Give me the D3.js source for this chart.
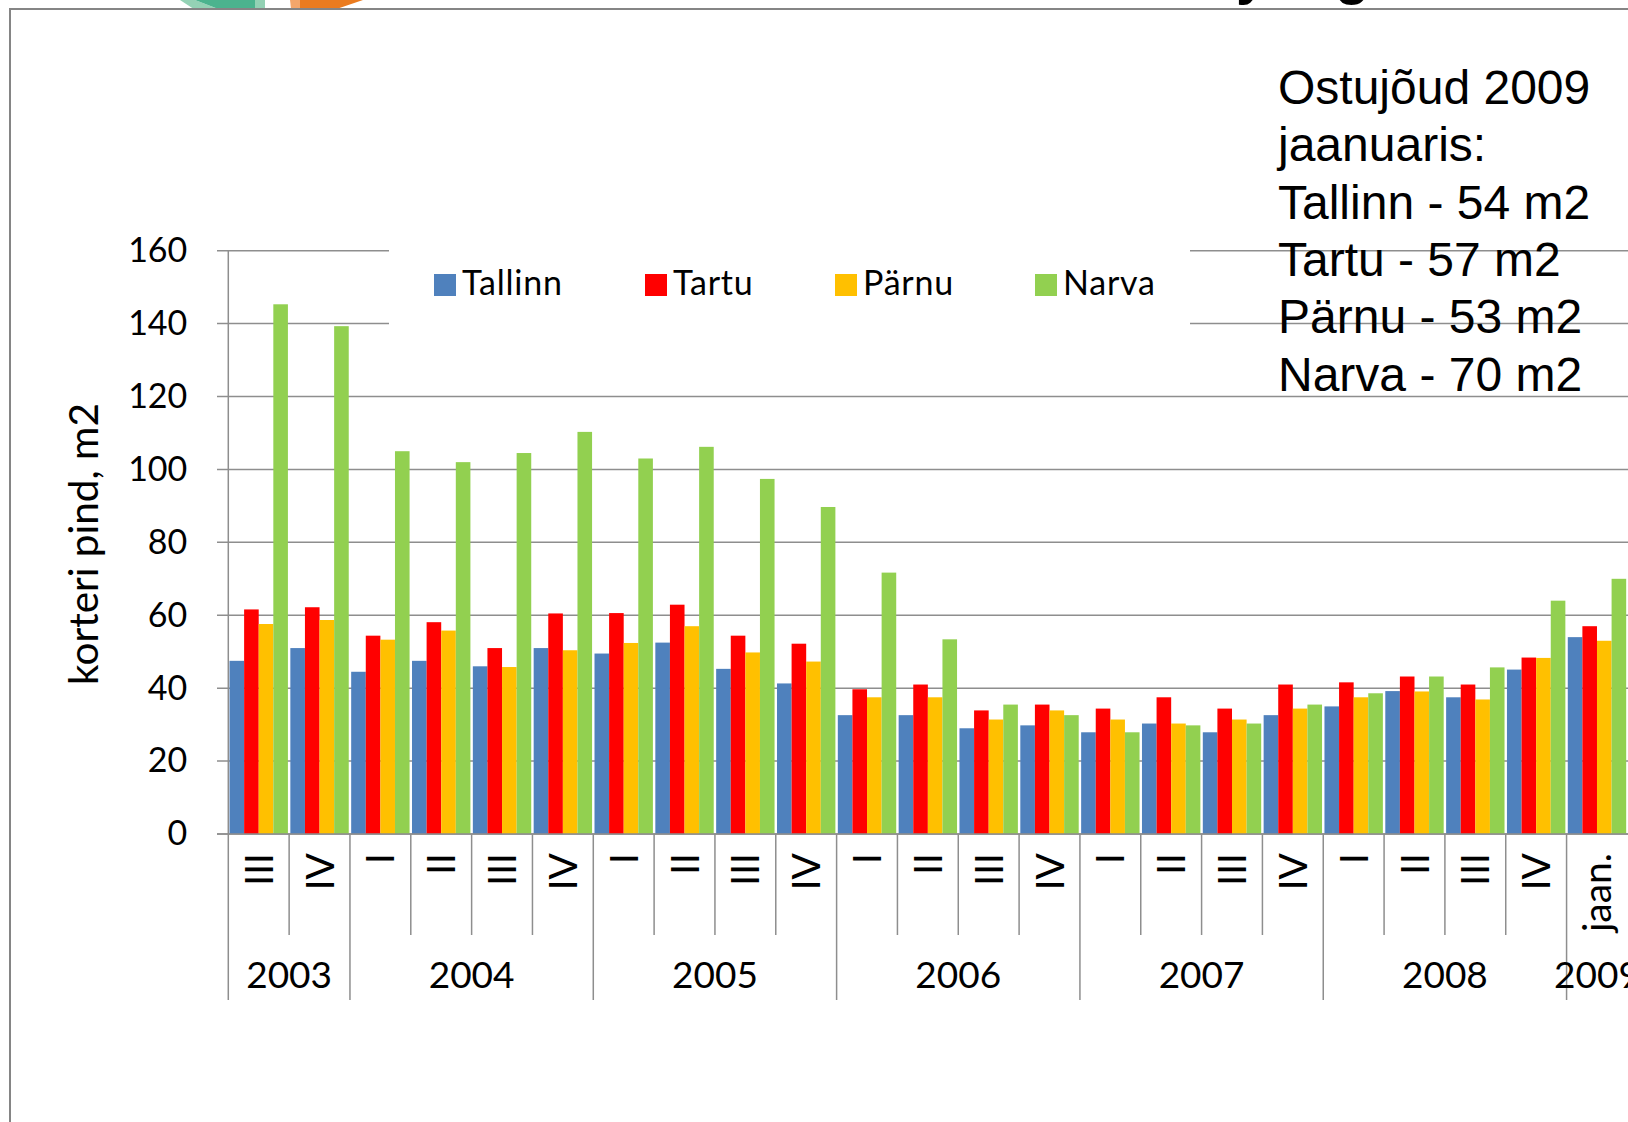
<!DOCTYPE html>
<html>
<head>
<meta charset="utf-8">
<script src="https://cdn.jsdelivr.net/npm/d3@7"></script>
<style>
  body { margin: 0; background: #fff; }
  svg { display: block; }
</style>
</head>
<body>
<svg id="chart" width="1628" height="1122"></svg>
<script>
// Quarter / month labels along the category axis
const quarterLabels = ["III", "IV", "I", "II", "III", "IV", "I", "II", "III", "IV",
  "I", "II", "III", "IV", "I", "II", "III", "IV", "I", "II", "III", "IV", "jaan."];
// Year labels and how many categories each year spans
const yearLabels = ["2003", "2004", "2005", "2006", "2007", "2008", "2009"];
const yearSpans = [2, 4, 4, 4, 4, 4, 1];

const cities = ["Tallinn", "Tartu", "Pärnu", "Narva"];

// Apartment floor area (m2) affordable per period
const tallinn = [47.5, 51, 44.5, 47.5, 46, 51, 49.5, 52.5, 45.3, 41.3, 32.6, 32.6,
  29, 29.8, 27.9, 30.3, 27.9, 32.6, 35, 39.2, 37.5, 45.1, 54];
const tartu = [61.6, 62.2, 54.4, 58.1, 51, 60.5, 60.6, 62.9, 54.4, 52.2, 39.7, 41,
  33.9, 35.5, 34.4, 37.5, 34.4, 41, 41.6, 43.2, 41, 48.4, 57];
const parnu = [57.6, 58.7, 53.3, 55.8, 45.8, 50.4, 52.4, 57, 49.8, 47.3, 37.5, 37.5,
  31.4, 33.9, 31.4, 30.3, 31.4, 34.4, 37.5, 39.1, 36.9, 48.3, 53];
const narva = [145.3, 139.3, 105, 102, 104.5, 110.3, 103, 106.2, 97.4, 89.7, 71.7, 53.4,
  35.5, 32.6, 27.9, 29.8, 30.3, 35.5, 38.6, 43.2, 45.7, 64, 70];

const yTicks = [0, 20, 40, 60, 80, 100, 120, 140, 160];

const noteLines = ["Ostujõud 2009", "jaanuaris:", "Tallinn - 54 m2",
  "Tartu - 57 m2", "Pärnu - 53 m2", "Narva - 70 m2"];

const seriesValues = [tallinn, tartu, parnu, narva];
const colors = ["#4F81BD", "#FF0000", "#FFC000", "#92D050"];

const rows = quarterLabels.map((q, i) => ({
  idx: i,
  label: q,
  values: cities.map((c, k) => ({ city: c, value: seriesValues[k][i] }))
}));

// ---- layout ----
const W = 1628, H = 1122;
const plotLeft = 228.3, plotRight = 1627.4;
const plotTop = 250.7, plotBottom = 834;
const uiFont = "Lato, 'Open Sans', sans-serif";
const gridColor = "#8e8e8e";

const svg = d3.select("#chart");
svg.append("rect").attr("width", W).attr("height", H).attr("fill", "#fff");

const x0 = d3.scaleBand()
  .domain(rows.map(r => r.idx))
  .range([plotLeft, plotRight])
  .paddingInner(0.04)
  .paddingOuter(0.02);
const x1 = d3.scaleBand().domain(cities).range([0, x0.bandwidth()]);
const y = d3.scaleLinear().domain([0, 160]).range([plotBottom, plotTop]);
const color = d3.scaleOrdinal().domain(cities).range(colors);
const step = x0.step();
const boundary = i => plotLeft + i * step;

// ---- page decoration: logo pieces and heading peeking above the frame ----
const deco = svg.append("g");
deco.append("polygon").attr("points", "180,0 195,0 217,8.5 193,8.5").attr("fill", "#94d2b5");
deco.append("polygon").attr("points", "195,0 255,0 255,8.5 217,8.5").attr("fill", "#4bb38e");
deco.append("polygon").attr("points", "255,0 265,0 265,8.5 255,8.5").attr("fill", "#93d1b4");
deco.append("polygon").attr("points", "290,0 300,0 300,8.5 291,8.5").attr("fill", "#f3a66b");
deco.append("polygon").attr("points", "300,0 363,0 338,8.5 300,8.5").attr("fill", "#ea7b1f");
deco.append("text").attr("x", 1236).attr("y", -7)
  .attr("font-family", "'Liberation Sans', Arial, sans-serif")
  .attr("font-weight", "bold").attr("font-size", 56).attr("fill", "#000").text("y");
deco.append("text").attr("x", 1335).attr("y", -7)
  .attr("font-family", "'Liberation Sans', Arial, sans-serif")
  .attr("font-weight", "bold").attr("font-size", 56).attr("fill", "#000").text("g");

// slide frame
svg.append("path")
  .attr("d", `M10,${H} V9 H${W}`)
  .attr("fill", "none").attr("stroke", "#858585").attr("stroke-width", 2);

// ---- gridlines ----
svg.append("g").selectAll("line")
  .data(yTicks)
  .join("line")
  .attr("x1", 217).attr("x2", W)
  .attr("y1", d => y(d)).attr("y2", d => y(d))
  .attr("stroke", gridColor).attr("stroke-width", 1.5);

// ---- y axis ----
const yAxis = d3.axisLeft(y).tickValues(yTicks).tickSize(0).tickPadding(41);
const yAxisG = svg.append("g").attr("transform", `translate(${plotLeft},0)`).call(yAxis);
yAxisG.select(".domain").remove();
yAxisG.selectAll("text")
  .attr("font-family", uiFont).attr("font-size", 34).attr("fill", "#000");

svg.append("line")
  .attr("x1", plotLeft).attr("x2", plotLeft)
  .attr("y1", plotTop).attr("y2", 1000)
  .attr("stroke", gridColor).attr("stroke-width", 1.5);

svg.append("text")
  .attr("transform", `translate(98,544) rotate(-90)`)
  .attr("text-anchor", "middle")
  .attr("font-family", uiFont).attr("font-size", 40.5).attr("fill", "#000")
  .text("korteri pind, m2");

// ---- legend (white box over the gridlines) ----
svg.append("rect")
  .attr("x", 389).attr("y", 240).attr("width", 801).attr("height", 96)
  .attr("fill", "#fff");
const legendX = [434, 645, 835, 1035];
const legend = svg.append("g").selectAll("g")
  .data(cities)
  .join("g")
  .attr("transform", (d, i) => `translate(${legendX[i]},274)`);
legend.append("rect").attr("width", 22).attr("height", 22).attr("fill", d => color(d));
legend.append("text")
  .attr("x", 28).attr("y", 21)
  .attr("font-family", uiFont).attr("font-size", 34).attr("fill", "#000")
  .attr("letter-spacing", 0.8)
  .text(d => d);

// ---- bars ----
const groups = svg.append("g").selectAll("g")
  .data(rows)
  .join("g")
  .attr("transform", d => `translate(${x0(d.idx)},0)`);
groups.selectAll("rect")
  .data(d => d.values)
  .join("rect")
  .attr("x", d => x1(d.city))
  .attr("width", x1.bandwidth())
  .attr("y", d => y(d.value))
  .attr("height", d => y(0) - y(d.value))
  .attr("fill", d => color(d.city));

// ---- category axis ----
svg.append("line")
  .attr("x1", 217).attr("x2", W)
  .attr("y1", y(0)).attr("y2", y(0))
  .attr("stroke", gridColor).attr("stroke-width", 1.5);

// year boundaries (category index where each year starts)
const yearStarts = [];
yearSpans.reduce((acc, n) => { yearStarts.push(acc); return acc + n; }, 0);

svg.append("g").selectAll("line")
  .data(d3.range(1, quarterLabels.length).filter(i => !yearStarts.includes(i)))
  .join("line")
  .attr("x1", d => boundary(d)).attr("x2", d => boundary(d))
  .attr("y1", y(0)).attr("y2", 935)
  .attr("stroke", gridColor).attr("stroke-width", 1.5);

svg.append("g").selectAll("line")
  .data(yearStarts.filter(i => i > 0))
  .join("line")
  .attr("x1", d => boundary(d)).attr("x2", d => boundary(d))
  .attr("y1", y(0)).attr("y2", 1000)
  .attr("stroke", gridColor).attr("stroke-width", 1.5);

svg.append("g").selectAll("text")
  .data(rows)
  .join("text")
  .attr("transform", d => `translate(${x0(d.idx) + x0.bandwidth() / 2},853) rotate(-90)`)
  .attr("dy", "0.36em")
  .attr("text-anchor", "end")
  .attr("font-family", uiFont).attr("font-size", 39).attr("fill", "#000")
  .text(d => d.label);

svg.append("g").selectAll("text")
  .data(yearLabels)
  .join("text")
  .attr("x", (d, i) => (boundary(yearStarts[i]) + boundary(yearStarts[i] + yearSpans[i])) / 2)
  .attr("y", 988)
  .attr("text-anchor", "middle")
  .attr("font-family", uiFont).attr("font-size", 37).attr("fill", "#000")
  .text(d => d);

// ---- note on the right ----
svg.append("g").selectAll("text")
  .data(noteLines)
  .join("text")
  .attr("x", 1278)
  .attr("y", (d, i) => 104 + i * 57.3)
  .attr("font-family", "'Liberation Sans', Arial, sans-serif")
  .attr("font-size", 48).attr("fill", "#000")
  .text(d => d);
</script>
</body>
</html>
